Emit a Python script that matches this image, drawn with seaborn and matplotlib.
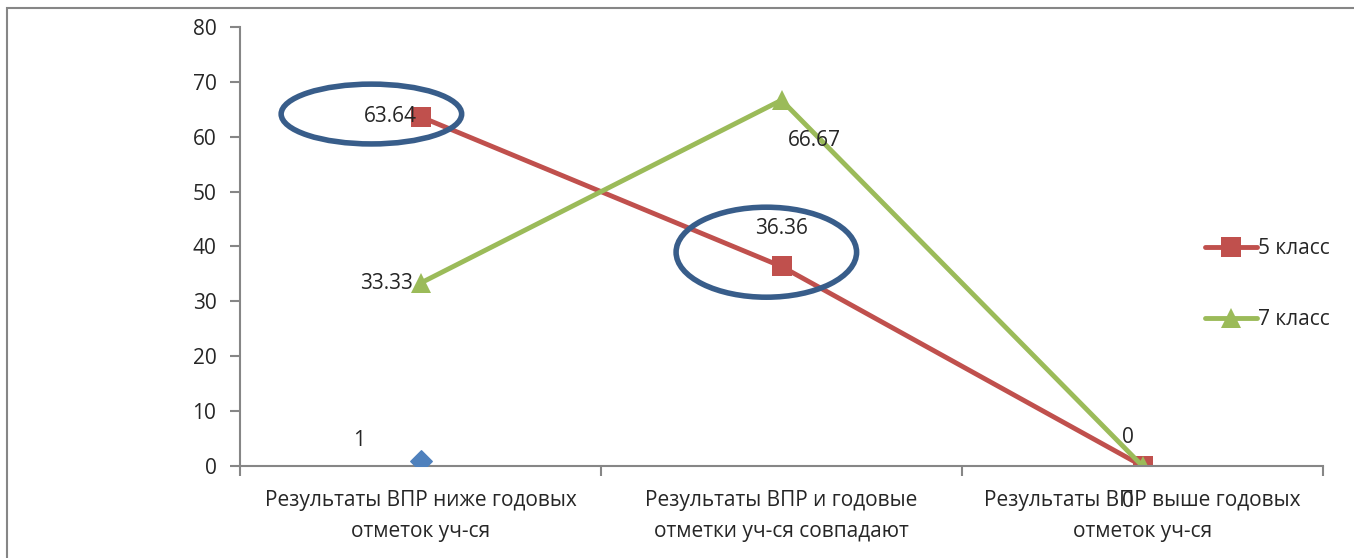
import matplotlib
matplotlib.use("Agg")
import matplotlib.pyplot as plt
from matplotlib.patches import Ellipse, Rectangle
import seaborn as sns
import pandas as pd

categories = [
    "Результаты ВПР ниже годовых\nотметок уч-ся",
    "Результаты ВПР и годовые\nотметки уч-ся совпадают",
    "Результаты ВПР выше годовых\nотметок уч-ся",
]
series_names = ["5 класс", "7 класс"]
values_5 = [63.64, 36.36, 0]
values_7 = [33.33, 66.67, 0]
extra_value = 1  # lone point at first category

colors = {"5 класс": "#C0504D", "7 класс": "#9BBB59"}
markers = {"5 класс": "s", "7 класс": "^"}

df = pd.DataFrame({
    "pos": list(range(3)) * 2,
    "value": values_5 + values_7,
    "series": [series_names[0]] * 3 + [series_names[1]] * 3,
})

sns.set_theme(style="white")
plt.rcParams["font.family"] = ["Open Sans", "DejaVu Sans"]

fig = plt.figure(figsize=(13.54, 5.58), dpi=100)
ax = fig.add_axes([240 / 1354, 1 - 466 / 558, 1083 / 1354, 439 / 558])

sns.lineplot(data=df, x="pos", y="value", hue="series", style="series",
             palette=colors, markers=markers, dashes=False, linewidth=3.5,
             markersize=14, markeredgewidth=0, ax=ax)
ax.scatter([0], [extra_value], marker="D", s=120, color="#4F81BD", zorder=5)

fs = 15
ax.set_xlim(-0.5, 2.5)
ax.set_ylim(0, 80)
ax.set_yticks(range(0, 81, 10))
ax.set_xticks([-0.5, 0.5, 1.5, 2.5])
ax.set_xticklabels([])
ax.set_xticks(range(3), labels=categories, minor=True)
for lab in ax.get_xticklabels(minor=True):
    lab.set_linespacing(1.65)
ax.tick_params(axis="x", which="minor", bottom=False, length=0, labelsize=fs, pad=17)
ax.tick_params(axis="x", which="major", bottom=True, length=7, width=1.5, color="#868686", direction="out")
ax.tick_params(axis="y", left=True, length=7, width=1.5, color="#868686", direction="out", labelsize=fs, pad=10)
ax.set_xlabel("")
ax.set_ylabel("")
for s in ["top", "right"]:
    ax.spines[s].set_visible(False)
for s in ["left", "bottom"]:
    ax.spines[s].set_color("#868686")
    ax.spines[s].set_linewidth(1.5)

# data labels
ax.text(0 - 0.01, values_5[0], f"{values_5[0]:.2f}", ha="right", va="center", fontsize=fs, zorder=6)
ax.text(0 - 0.02, values_7[0], f"{values_7[0]:.2f}", ha="right", va="center", fontsize=fs)
ax.text(1, values_5[1] + 7, f"{values_5[1]:.2f}", ha="center", va="center", fontsize=fs)
ax.text(1 + 0.09, values_7[1] - 7.3, f"{values_7[1]:.2f}", ha="center", va="center", fontsize=fs)
ax.text(2 - 0.04, values_7[2] + 5.2, f"{values_7[2]:g}", ha="center", va="center", fontsize=fs)
ax.text(2 - 0.04, values_5[2] - 6.5, f"{values_5[2]:g}", ha="center", va="center", fontsize=fs,
        clip_on=False)
ax.text(0 - 0.17, extra_value + 3.6, f"{extra_value}", ha="center", va="center", fontsize=fs)

# highlight ellipses
ax.add_patch(Ellipse((0 - 0.136, values_5[0] + 0.5), 0.5, 10.9, fill=False,
                     edgecolor="#385D8A", linewidth=4, zorder=7))
ax.add_patch(Ellipse((1 - 0.042, values_5[1] + 2.6), 0.5, 16.4, fill=False,
                     edgecolor="#385D8A", linewidth=4, zorder=7))

leg = ax.legend(loc="center left", bbox_to_anchor=(0.883, 0.415), frameon=False,
                fontsize=fs, labelspacing=2.4, handlelength=2.5, handletextpad=0.05,
                borderaxespad=0)
leg.set_title(None)

fig.patches.append(Rectangle((7 / 1354, -0.02), 1.1, 1 - 8 / 558 + 0.02, transform=fig.transFigure,
                             fill=False, edgecolor="#868686", linewidth=1.5))

fig.savefig("out.png", dpi=100)
